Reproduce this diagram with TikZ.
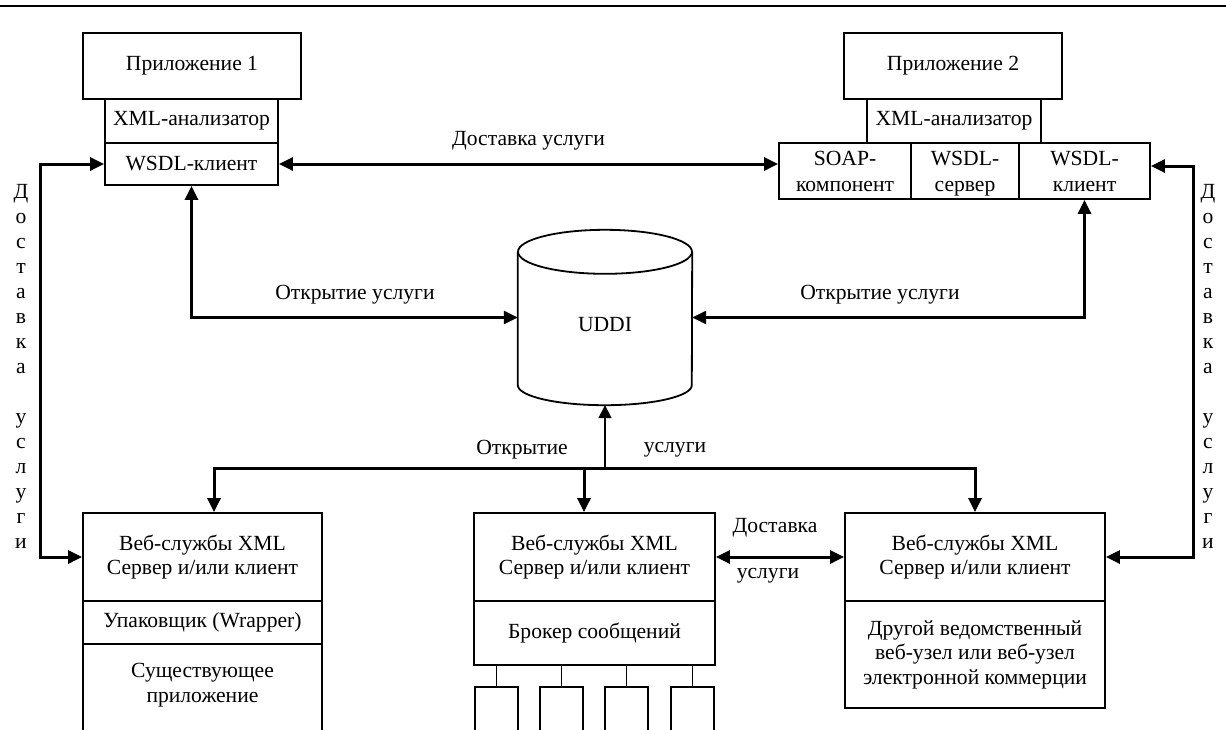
\documentclass[tikz,border=0pt]{standalone}
\usepackage{fontspec}
\setmainfont{Liberation Serif}
\usetikzlibrary{arrows.meta}
\newcommand\dfont{\fontsize{21.6pt}{24.5pt}\selectfont}
\newcommand\rfont{\fontsize{21.6pt}{26pt}\selectfont}
\newcommand\vfont{\fontsize{21.6pt}{25pt}\selectfont}
\begin{document}
\begin{tikzpicture}[x=1pt,y=-1pt,
  box/.style={draw, line width=1.8pt, inner sep=0pt, align=center, font=\dfont},
  lbl/.style={inner sep=0pt, font=\dfont},
  rowlbl/.style={inner sep=0pt, align=center, font=\rfont, yshift=-2pt},
  vlbl/.style={inner sep=0pt, align=center, font=\vfont},
  conn/.style={line width=3pt, -{Triangle[length=14pt,width=13pt]}},
  dconn/.style={line width=3pt, {Triangle[length=14pt,width=13pt]}-{Triangle[length=14pt,width=13pt]}},
  thinarrow/.style={line width=1.6pt, -{Triangle[length=13pt,width=13pt]}},
  thinline/.style={line width=1.6pt},
  cyl/.style={line width=1.8pt}]
\useasboundingbox (0,0) rectangle (1226,729);
\clip (0,0) rectangle (1226,729);
\fill[white] (0,0) rectangle (1226,729);

% top rule
\coordinate (rulel) at (0,6);
\coordinate (ruler) at (1226,6);
\draw[line width=2.4pt] (rulel) -- (ruler);

% application 1
\node[box, minimum width=218pt, minimum height=66pt] (app1) at (192,66) {Приложение 1};
\node[box, minimum width=173pt, minimum height=44pt] (xml1) at (191.5,121) {XML-анализатор};
\node[box, minimum width=173pt, minimum height=42pt] (wsdl1) at (191.5,164) {WSDL-клиент};

% application 2
\node[box, minimum width=218pt, minimum height=66pt] (app2) at (953,66) {Приложение 2};
\node[box, minimum width=174pt, minimum height=44pt] (xml2) at (954,121) {XML-анализатор};
\node[box, minimum width=132pt, minimum height=56pt,
      label={[rowlbl]center:SOAP-\strut\\компонент\strut}] (soap) at (845,171) {};
\node[box, minimum width=108pt, minimum height=56pt,
      label={[rowlbl]center:WSDL-\strut\\сервер\strut}] (wsrv) at (965,171) {};
\node[box, minimum width=131pt, minimum height=56pt,
      label={[rowlbl]center:WSDL-\strut\\клиент\strut}] (wcli) at (1084.5,171) {};

% UDDI
\node[minimum width=174pt, minimum height=175pt, inner sep=0pt,
      label={[lbl, yshift=-7.5pt]center:UDDI}] (uddi) at (605,317.5) {};
\draw[cyl] ([yshift=-22pt]uddi.north west) -- ([yshift=20pt]uddi.south west)
  arc[start angle=180, end angle=360, x radius=87pt, y radius=20pt]
  -- ([yshift=-22pt]uddi.north east);
\draw[cyl] ([yshift=-22pt]uddi.north) ellipse [x radius=87pt, y radius=22pt];

% bottom left
\node[box, minimum width=239pt, minimum height=88pt] (lb1) at (202.5,557) {Веб-службы XML\\Сервер и/или клиент};
\node[box, minimum width=239pt, minimum height=43pt] (lb2) at (202.5,622.5) {Упаковщик (Wrapper)};
\node[box, minimum width=239pt, minimum height=116pt,
      label={[lbl, align=center, yshift=17pt]center:Существующее\\приложение}] (lb3) at (202.5,702) {};

% bottom middle
\node[box, minimum width=241pt, minimum height=88pt] (mb1) at (594.5,557) {Веб-службы XML\\Сервер и/или клиент};
\node[box, minimum width=241pt, minimum height=64pt] (mb2) at (594.5,633) {Брокер сообщений};
\node[box, minimum width=43pt, minimum height=73pt] (sb1) at (496.5,723.5) {};
\node[box, minimum width=43pt, minimum height=73pt] (sb2) at (561.5,723.5) {};
\node[box, minimum width=43pt, minimum height=73pt] (sb3) at (626.5,723.5) {};
\node[box, minimum width=43pt, minimum height=73pt] (sb4) at (692.5,723.5) {};
\foreach \s in {sb1,sb2,sb3,sb4}
  \draw[thinline] (\s.north) -- (\s.north |- mb2.south);

% bottom right
\node[box, minimum width=260pt, minimum height=88pt] (rb1) at (975,557) {Веб-службы XML\\Сервер и/или клиент};
\node[box, minimum width=260pt, minimum height=107pt] (rb2) at (975,654.5) {Другой ведомственный\\веб-узел или веб-узел\\электронной коммерции};

% delivery between applications
\draw[dconn] (wsdl1.east) -- (wsdl1.east -| soap.west);
\node[lbl] (dl1) at (528.5,141) {Доставка услуги};

% discovery to UDDI
\draw[dconn] (wsdl1.south) |- (uddi.west);
\draw[dconn] (wcli.south) |- (uddi.east);
\node[lbl] (ol1) at (355,295) {Открытие услуги};
\node[lbl] (ol2) at (880,295) {Открытие услуги};

% bus from UDDI
\coordinate (busc) at (605,468);
\draw[thinarrow] (busc) -- (uddi.south);
\draw[conn] (busc) -| ([xshift=11.5pt]lb1.north);
\draw[conn] (busc) -| ([xshift=-10.5pt]mb1.north);
\draw[conn] (busc) -| (rb1.north);
\node[lbl] (ol3) at (522,450) {Открытие};
\node[lbl] (ol4) at (675,450) {услуги};

% delivery middle-right
\draw[dconn] (mb1.east) -- (rb1.west);
\node[lbl] (dl2) at (775,528) {Доставка};
\node[lbl] (dl3) at (768,576) {услуги};

% side delivery loops
\coordinate (ltop) at (40,164);
\coordinate (lbot) at (40,557);
\draw[dconn] (wsdl1.west) -- (ltop) -- (lbot) -- (lb1.west);
\coordinate (rtop) at (1193,166);
\coordinate (rbot) at (1193,557);
\draw[dconn] ([yshift=5pt]wcli.east) -- (rtop) -- (rbot) -- (rb1.east);

\node[vlbl] (vl) at (21,366) {Д\\о\\с\\т\\а\\в\\к\\а\\[25pt]у\\с\\л\\у\\г\\и};
\node[vlbl] (vr) at (1208,366) {Д\\о\\с\\т\\а\\в\\к\\а\\[25pt]у\\с\\л\\у\\г\\и};
\end{tikzpicture}
\end{document}
